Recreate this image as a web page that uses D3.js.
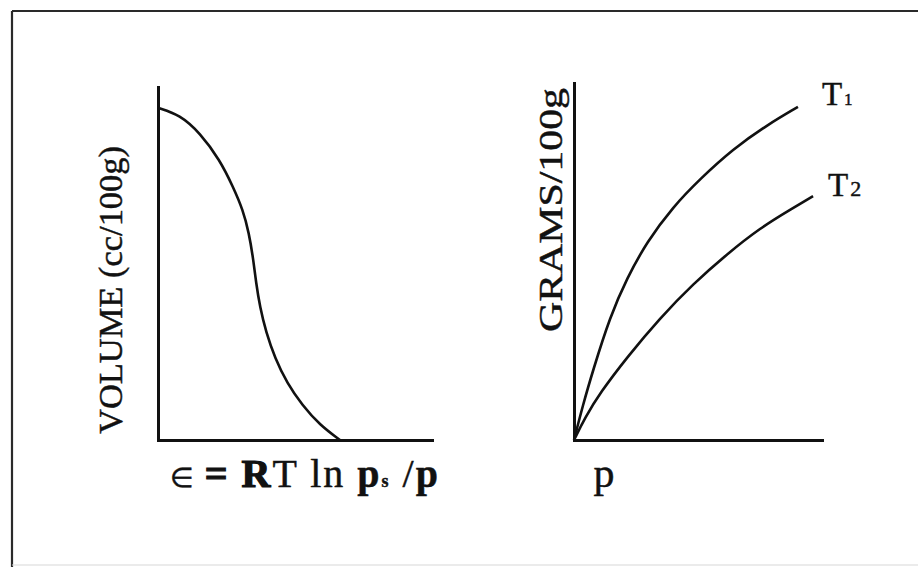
<!DOCTYPE html>
<html>
<head>
<meta charset="utf-8">
<script src="https://cdn.jsdelivr.net/npm/d3@7"></script>
<style>
  html, body { margin: 0; padding: 0; background: #fff; }
  svg { display: block; }
  text { font-family: "Liberation Serif", "Times New Roman", serif; fill: #111; stroke: #111; stroke-width: 0.45; }
</style>
</head>
<body>
<svg id="chart" width="918" height="567"></svg>
<script>
// Characteristic curve: adsorbed volume vs. adsorption potential
const potentialX = [0, 0.80, 1.53, 2.26, 2.74, 3.10, 3.32, 3.47, 3.58, 3.72, 3.94, 4.27, 4.71, 5.26, 5.91, 6.64];
const volumeY    = [9.41, 9.21, 8.70, 7.93, 7.17, 6.52, 5.86, 5.16, 4.45, 3.77, 3.06, 2.32, 1.61, 0.99, 0.42, 0];

// Isotherms: grams adsorbed vs. pressure at two temperatures
const pressureT1 = [0, 0.36, 0.77, 1.45, 2.14, 2.94, 3.99, 5.08, 6.41, 7.78, 9.03];
const gramsT1    = [0, 0.98, 1.96, 3.45, 4.54, 5.55, 6.53, 7.31, 8.15, 8.82, 9.33];
const pressureT2 = [0, 0.44, 1.05, 2.14, 3.47, 4.80, 6.17, 7.50, 8.83, 9.64];
const gramsT2    = [0, 0.62, 1.32, 2.32, 3.42, 4.37, 5.21, 5.94, 6.50, 6.83];

const seriesLabels = ["T", "T"];
const seriesSubs = ["1", "2"];

const svg = d3.select("#chart");

// Frame
svg.append("line").attr("x1", 12).attr("y1", 11).attr("x2", 918).attr("y2", 11)
  .attr("stroke", "#2a2a2a").attr("stroke-width", 2.2);
svg.append("line").attr("x1", 12).attr("y1", 11).attr("x2", 12).attr("y2", 567)
  .attr("stroke", "#2a2a2a").attr("stroke-width", 2.2);
svg.append("line").attr("x1", 12).attr("y1", 565).attr("x2", 918).attr("y2", 565)
  .attr("stroke", "#d8d8d8").attr("stroke-width", 1.2);

function drawAxes(x, y) {
  const [x0] = x.range();
  const [y0] = y.range();
  const gx = svg.append("g").attr("transform", `translate(0,${y0})`)
    .call(d3.axisBottom(x).ticks(0).tickSizeOuter(0));
  const gy = svg.append("g").attr("transform", `translate(${x0},0)`)
    .call(d3.axisLeft(y).ticks(0).tickSizeOuter(0));
  [gx, gy].forEach(g => {
    g.select(".domain").attr("stroke", "#111").attr("stroke-width", 3).attr("stroke-linecap", "square");
    g.selectAll(".tick").remove();
  });
}

// Left panel
const xL = d3.scaleLinear().domain([0, 10]).range([158, 432]);
const yL = d3.scaleLinear().domain([0, 10]).range([440, 87]);
drawAxes(xL, yL);

const lineL = d3.line().x(d => xL(d[0])).y(d => yL(d[1])).curve(d3.curveBasis);
svg.append("path").datum(d3.zip(potentialX, volumeY))
  .attr("d", lineL).attr("fill", "none").attr("stroke", "#111").attr("stroke-width", 2.6);

svg.append("text")
  .attr("transform", "translate(122,290) rotate(-90)")
  .attr("text-anchor", "middle").attr("font-size", 34)
  .attr("textLength", 288).attr("lengthAdjust", "spacingAndGlyphs")
  .text("VOLUME (cc/100g)");

const xlab = svg.append("text").attr("x", 170).attr("y", 487).attr("font-size", 40)
  .attr("textLength", 268).attr("lengthAdjust", "spacing");
xlab.append("tspan").attr("font-size", 27).text("\u2208 ");
xlab.append("tspan").attr("font-weight", "bold").attr("stroke-width", 1.2).text("= R");
xlab.append("tspan").text("T ln ");
xlab.append("tspan").attr("font-weight", "bold").text("p");
xlab.append("tspan").attr("font-size", 18).attr("font-weight", "bold").text("s");
xlab.append("tspan").text(" /");
xlab.append("tspan").attr("font-weight", "bold").text("p");

// Right panel
const xR = d3.scaleLinear().domain([0, 10]).range([574, 822]);
const yR = d3.scaleLinear().domain([0, 10]).range([440, 83]);
drawAxes(xR, yR);

const lineR = d3.line().x(d => xR(d[0])).y(d => yR(d[1])).curve(d3.curveBasis);
const isotherms = [d3.zip(pressureT1, gramsT1), d3.zip(pressureT2, gramsT2)];
svg.selectAll("path.iso").data(isotherms).enter().append("path")
  .attr("class", "iso").attr("d", lineR)
  .attr("fill", "none").attr("stroke", "#111").attr("stroke-width", 2.6);

// Series labels placed past the end of each curve
const labelOffsets = [[24, -2], [15, 0]];
const subSizes = [17, 22];
isotherms.forEach((pts, i) => {
  const last = pts[pts.length - 1];
  const t = svg.append("text")
    .attr("x", xR(last[0]) + labelOffsets[i][0])
    .attr("y", yR(last[1]) + labelOffsets[i][1])
    .attr("font-size", 33);
  t.append("tspan").text(seriesLabels[i]);
  t.append("tspan").attr("font-size", subSizes[i]).attr("dx", 2).text(seriesSubs[i]);
});

svg.append("text")
  .attr("transform", "translate(562,210) rotate(-90)")
  .attr("text-anchor", "middle").attr("font-size", 34)
  .attr("textLength", 244).attr("lengthAdjust", "spacingAndGlyphs")
  .text("GRAMS/100g");

svg.append("text").attr("x", 604).attr("y", 487).attr("text-anchor", "middle")
  .attr("font-size", 42).text("p");
</script>
</body>
</html>
